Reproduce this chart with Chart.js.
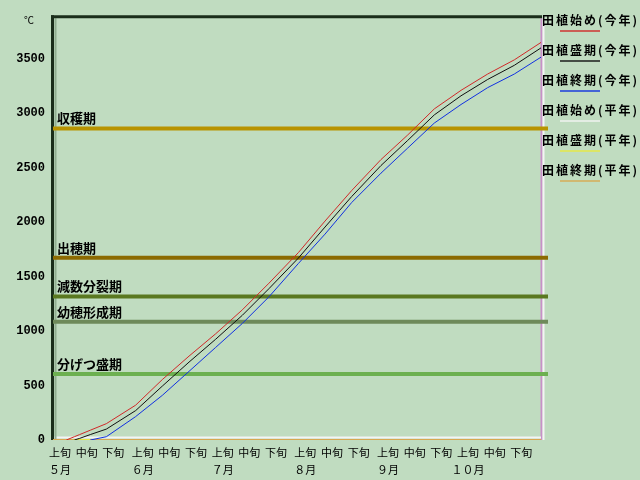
<!DOCTYPE html>
<html>
<head>
<meta charset="utf-8">
<style>
  html, body { margin: 0; padding: 0; background: #c0dcc0; }
</style>
<script src="https://cdn.jsdelivr.net/npm/chart.js@4.4.1/dist/chart.umd.min.js"></script>
</head>
<body>
<canvas id="myChart" width="640" height="480"></canvas>
<script>
// days counted from May 1 (0) to Oct 31 (183)
const days = [0, 5, 8, 10, 14, 20, 31, 41, 51, 61, 71, 81, 92, 102, 112, 123, 133, 143, 153, 163, 173, 183];

// cumulative temperature (this year)
const startThisYear = [null, 0, 30, 50, 90, 150, 320, 555, 770, 975, 1195, 1440, 1720, 2010, 2290, 2575, 2800, 3040, 3210, 3360, 3490, 3650];
const peakThisYear  = [null, null, 0, 15, 50, 100, 270, 495, 715, 925, 1145, 1390, 1670, 1955, 2235, 2520, 2750, 2985, 3160, 3310, 3440, 3600];
const endThisYear   = [null, null, null, null, 0, 30, 215, 410, 630, 850, 1070, 1315, 1620, 1890, 2180, 2450, 2680, 2910, 3080, 3235, 3360, 3515];

// normal year series (flat at the bottom in the picture)
const startNormal = [0, 0, 0, 0, 0, 0, 0, 0, 0, 0, 0, 0, 0, 0, 0, 0, 0, 0, 0, 0, 0, 0];
const peakNormal  = [null, null, 0, 0, 0, null, null, null, null, null, null, null, null, null, null, null, null, null, null, null, null, null];
const endNormal   = [0, 0, 0, 0, 0, 0, 0, 0, 0, 0, 0, 0, 0, 0, 0, 0, 0, 0, 0, 0, 0, 0];

const seriesNames = ["田植始め(今年)", "田植盛期(今年)", "田植終期(今年)", "田植始め(平年)", "田植盛期(平年)", "田植終期(平年)"];
const seriesColors = ["#d02828", "#101010", "#1030e0", "#f4f4f4", "#e8e840", "#d8a850"];

// growth stage thresholds
const stageNames = ["収穫期", "出穂期", "減数分裂期", "幼穂形成期", "分げつ盛期"];
const stageValues = [2860, 1673, 1318, 1085, 606];
const stageColors = ["#b89400", "#8c6a00", "#5a7820", "#6e8a5a", "#6cb050"];

// axis ticks
const yTicks = [0, 500, 1000, 1500, 2000, 2500, 3000, 3500];
const dekadDays = [0, 10, 20, 31, 41, 51, 61, 71, 81, 92, 102, 112, 123, 133, 143, 153, 163, 173];
const dekadNames = ["上旬", "中旬", "下旬"];
const monthNames = ["５月", "６月", "７月", "８月", "９月", "１０月"];

const allSeries = [startThisYear, peakThisYear, endThisYear, startNormal, peakNormal, endNormal];
const drawOrder = [1, 2, 3, 6, 4, 5];

const datasets = allSeries.map((vals, i) => ({
  label: seriesNames[i],
  data: days.map((d, j) => ({ x: d, y: vals[j] })),
  borderColor: seriesColors[i],
  backgroundColor: seriesColors[i],
  borderWidth: i < 3 ? 1 : 2,
  pointRadius: 0,
  tension: 0,
  fill: false,
  order: drawOrder[i],
}));

const decor = {
  id: "decor",
  beforeDraw(chart) {
    const c = chart.ctx;
    c.save();
    c.fillStyle = "#c0dcc0";
    c.fillRect(0, 0, chart.width, chart.height);
    c.restore();
  },
  beforeDatasetsDraw(chart) {
    const c = chart.ctx;
    const a = chart.chartArea;
    const y = chart.scales.y;
    c.save();
    // frame
    c.lineWidth = 2;
    c.strokeStyle = "#c890c8";
    c.beginPath(); c.moveTo(a.right + 0.5, a.top + 3); c.lineTo(a.right + 0.5, a.bottom); c.stroke();
    c.strokeStyle = "#f4f4f4";
    c.beginPath(); c.moveTo(a.right + 2.5, a.top + 3); c.lineTo(a.right + 2.5, a.bottom); c.stroke();
    c.beginPath(); c.moveTo(a.left, a.bottom - 2.5); c.lineTo(a.right, a.bottom - 2.5); c.stroke();
    c.strokeStyle = "#8fae8f";
    c.beginPath(); c.moveTo(a.left + 2.5, a.top + 3); c.lineTo(a.left + 2.5, a.bottom); c.stroke();
    c.lineWidth = 3;
    c.strokeStyle = "#1a2e1a";
    c.beginPath(); c.moveTo(a.left - 0.5, a.bottom); c.lineTo(a.left - 0.5, a.top); c.stroke();
    c.beginPath(); c.moveTo(a.left - 2, a.top + 1.5); c.lineTo(a.right + 1, a.top + 1.5); c.stroke();

    // stage lines
    c.lineWidth = 4;
    c.font = 'bold 13px "Noto Sans CJK JP"';
    c.textBaseline = "middle";
    c.textAlign = "left";
    stageValues.forEach((v, i) => {
      const py = y.getPixelForValue(v);
      c.strokeStyle = stageColors[i];
      c.beginPath(); c.moveTo(a.left, py); c.lineTo(a.right + 7, py); c.stroke();
      c.fillStyle = "#000";
      c.fillText(stageNames[i], a.left + 4, py - 10);
    });
    c.restore();
  },
  afterDraw(chart) {
    const c = chart.ctx;
    const a = chart.chartArea;
    c.save();
    c.fillStyle = "#000";
    c.font = '10px "Noto Sans CJK JP"';
    c.textAlign = "center";
    c.textBaseline = "middle";
    c.fillText("℃", 29, 20);

    // legend
    c.textAlign = "left";
    c.font = 'bold 12px "Noto Sans CJK JP"';
    c.letterSpacing = "2px";
    seriesNames.forEach((name, i) => {
      const ty = 20 + i * 30;
      c.fillStyle = "#000";
      c.fillText(name, a.right + 1, ty);
      c.globalAlpha = 0.7;
      c.strokeStyle = seriesColors[i];
      c.lineWidth = 2;
      c.beginPath(); c.moveTo(a.right + 19, ty + 11); c.lineTo(a.right + 59, ty + 11); c.stroke();
      c.globalAlpha = 1;
    });
    c.restore();
  },
};

const ctx = document.getElementById("myChart");
const myChart = new Chart(ctx, {
  type: "line",
  data: { datasets: datasets },
  options: {
    responsive: false,
    animation: false,
    devicePixelRatio: 1,
    layout: { padding: { top: 10, right: 99, left: 0, bottom: 0 } },
    plugins: {
      legend: { display: false },
      tooltip: { enabled: false },
    },
    scales: {
      x: {
        type: "linear",
        min: 0,
        max: 183,
        grid: { display: false, drawTicks: false },
        border: { display: false },
        afterFit(scale) { scale.height = 40; },
        afterBuildTicks(scale) { scale.ticks = dekadDays.map((d) => ({ value: d })); },
        ticks: {
          autoSkip: false,
          maxRotation: 0,
          padding: 4,
          labelOffset: 7,
          color: "#000",
          font: { family: '"Noto Sans CJK JP"', size: 11, lineHeight: 17 / 11 },
          callback(value) {
            const k = dekadDays.indexOf(value);
            if (k % 3 === 0) return [dekadNames[0], monthNames[k / 3]];
            return dekadNames[k % 3];
          },
        },
      },
      y: {
        min: 0,
        max: 3900,
        grid: { display: false, drawTicks: false },
        border: { display: false },
        afterFit(scale) { scale.width = 53; },
        afterBuildTicks(scale) { scale.ticks = yTicks.map((v) => ({ value: v })); },
        ticks: {
          autoSkip: false,
          padding: 8,
          color: "#000",
          font: { family: '"Liberation Mono"', size: 12, weight: "bold" },
          callback(value) { return String(value); },
        },
      },
    },
  },
  plugins: [decor],
});
</script>
</body>
</html>
